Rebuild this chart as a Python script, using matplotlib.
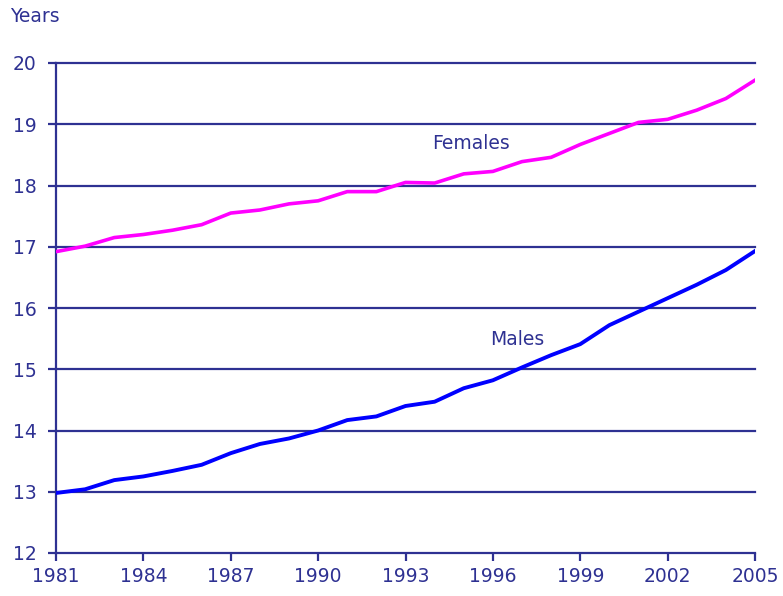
import matplotlib.pyplot as plt

years = list(range(1981, 2006))
females = [16.92, 17.01, 17.15, 17.20, 17.27, 17.36, 17.55, 17.60, 17.70, 17.75,
           17.90, 17.90, 18.05, 18.04, 18.19, 18.23, 18.39, 18.46, 18.67, 18.85,
           19.03, 19.08, 19.23, 19.42, 19.72]
males = [12.98, 13.04, 13.19, 13.25, 13.34, 13.44, 13.63, 13.78, 13.87, 14.00,
         14.17, 14.23, 14.40, 14.47, 14.69, 14.82, 15.03, 15.23, 15.41, 15.72,
         15.94, 16.16, 16.38, 16.62, 16.93]
x_ticks = list(range(1981, 2006, 3))
y_ticks = list(range(12, 21))

navy = '#2e3192'

fig = plt.figure(figsize=(7.83, 5.96), dpi=100)
ax = fig.add_axes([56 / 783, 1 - 553 / 596, 699 / 783, 490 / 596])

for v in y_ticks[1:]:
    ax.axhline(v, color=navy, lw=1.6, zorder=1, clip_on=False)

ax.plot(years, females, color='#ff00ff', lw=2.6, zorder=3)
ax.plot(years, males, color='#0000ff', lw=2.8, zorder=3)

ax.set_xlim(1981, 2005)
ax.set_ylim(12, 20)
ax.set_xticks(x_ticks)
ax.set_yticks(y_ticks)
ax.tick_params(colors=navy, labelcolor=navy, labelsize=13.5, width=1.6, length=6)
ax.tick_params(axis='y', pad=8)
ax.tick_params(axis='x', pad=4)

for side in ['top', 'right']:
    ax.spines[side].set_visible(False)
for side in ['left', 'bottom']:
    ax.spines[side].set_color(navy)
    ax.spines[side].set_linewidth(1.6)

ax.text(1995.25, 18.68, 'Females', color=navy, fontsize=13.5, ha='center', va='center')
ax.text(1996.85, 15.49, 'Males', color=navy, fontsize=13.5, ha='center', va='center')
fig.text(10 / 783, 1 - 17 / 596, 'Years', color=navy, fontsize=13.5, ha='left', va='center')

fig.savefig('out.png', dpi=100)
